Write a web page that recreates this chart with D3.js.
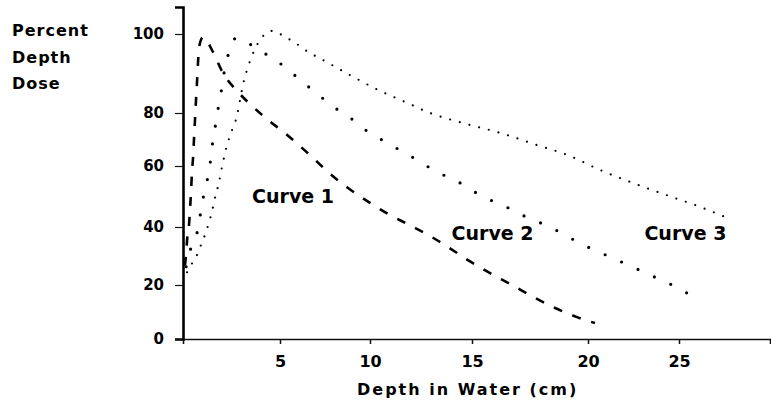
<!DOCTYPE html>
<html>
<head>
<meta charset="utf-8">
<script src="https://cdn.jsdelivr.net/npm/d3@7"></script>
<style>
    body { margin: 0; background: #fff; }
    text { font-family: "DejaVu Sans", sans-serif; font-weight: bold; fill: #000; }
</style>
</head>
<body>
<script>
// values
var xTicks = [5, 10, 15, 20, 25];
var yTicks = [0, 20, 40, 60, 80, 100];

var curve1Depth = [0.10, 0.16, 0.21, 0.31, 0.36, 0.41, 0.46, 0.52, 0.57, 0.62, 0.67, 0.72, 0.77, 0.83, 1.03, 1.55, 2.01, 2.84, 3.40, 4.33, 5.33, 6.11, 6.78, 7.67, 8.78, 10.0, 10.88, 11.91, 12.94, 13.82, 14.80, 15.78, 16.72, 17.63, 18.58, 19.53, 20.38];
var curve1Dose = [26.7, 30.7, 35.5, 40.7, 45.6, 51.1, 57.7, 63.4, 70.6, 77.7, 83.3, 87.6, 92.4, 96.7, 99.2, 95.4, 90.6, 85.3, 82.5, 77.7, 72.1, 67.5, 63.4, 58.0, 52.8, 47.9, 44.3, 40.7, 36.9, 33.1, 28.6, 24.1, 20.0, 15.6, 11.5, 8.1, 5.9];

var curve2Depth = [0.16, 0.41, 0.72, 0.88, 1.03, 1.24, 1.39, 1.49, 1.65, 1.80, 1.96, 2.06, 2.27, 2.47, 2.78, 3.35, 4.18, 4.90, 5.50, 6.22, 7.00, 7.67, 8.50, 9.06, 9.83, 10.69, 11.62, 12.40, 13.28, 14.17, 15.04, 15.69, 16.47, 17.33, 18.36, 19.31, 20.22, 21.21, 22.42, 23.57, 24.62, 25.44];
var curve2Dose = [26.3, 32.8, 37.9, 43.6, 49.2, 55.1, 60.4, 66.8, 74.3, 80.8, 85.1, 88.6, 93.4, 97.5, 99.0, 97.7, 95.2, 92.9, 90.9, 87.8, 85.3, 82.5, 80.0, 77.4, 73.2, 69.4, 65.3, 61.9, 58.0, 55.4, 51.8, 49.2, 46.6, 43.3, 40.0, 35.9, 32.4, 29.7, 26.3, 23.0, 20.0, 17.0];

var curve3Depth = [0.21, 0.52, 0.77, 0.98, 1.19, 1.34, 1.49, 1.60, 1.86, 2.01, 2.27, 2.53, 2.78, 2.94, 3.09, 3.30, 3.51, 3.71, 3.97, 4.23, 4.54, 4.90, 5.28, 5.78, 6.22, 7.67, 9.17, 10.49, 11.72, 12.94, 14.56, 16.21, 17.80, 19.10, 20.66, 22.47, 24.34, 26.15, 27.53];
var curve3Dose = [24.4, 28.1, 31.0, 34.8, 38.3, 41.6, 44.9, 48.2, 54.8, 59.7, 67.9, 73.6, 78.9, 83.3, 87.1, 90.9, 93.9, 96.2, 98.5, 100.0, 100.8, 100.3, 99.2, 98.0, 96.5, 92.7, 88.9, 85.6, 82.8, 80.0, 76.2, 72.5, 67.9, 64.2, 58.7, 54.4, 50.4, 46.6, 43.3];

var labelText = ["Curve 1", "Curve 2", "Curve 3"];
var labelDepth = [3.56, 14.0, 23.1];
var labelDose = [47.9, 35.5, 35.5];

// dimensions
var width = 771;
var height = 408;

var svg = d3.select("body")
    .append("svg")
    .attr("width", width)
    .attr("height", height);

// the printed axes are not evenly spaced, so piecewise scales
var x = d3.scaleLinear()
    .domain([0, 5, 10, 15, 20, 25, 30])
    .range([183, 280, 370, 472, 588, 679, 770]);

var y = d3.scaleLinear()
    .domain([0, 20, 40, 60, 80, 100, 107])
    .range([339, 285, 227, 166, 113, 34, 7]);

// x axis
var xAxis = svg.append("g")
    .attr("transform", "translate(0," + y(0) + ")")
    .call(d3.axisBottom(x)
        .tickValues(xTicks)
        .tickSizeOuter(0)
        .tickSize(5)
        .tickPadding(12)
        .tickFormat(d3.format("d")));
xAxis.select(".domain").attr("stroke", "#111").attr("stroke-width", 1.6);
xAxis.selectAll(".tick line").attr("stroke", "#111").attr("stroke-width", 1.5);
xAxis.selectAll("text").style("font-size", "16px").style("font-family", "DejaVu Sans").style("font-weight", "bold");

// y axis
var yAxis = svg.append("g")
    .attr("transform", "translate(" + x(0) + ",0)")
    .call(d3.axisLeft(y)
        .tickValues(yTicks)
        .tickSizeOuter(0)
        .tickSize(8)
        .tickPadding(11));
yAxis.select(".domain").attr("stroke", "#000").attr("stroke-width", 2.6);
yAxis.selectAll(".tick line").attr("stroke", "#111").attr("stroke-width", 1.2);
yAxis.selectAll("text").style("font-size", "15px").style("font-family", "DejaVu Sans").style("font-weight", "bold");

// the three depth dose curves
var line = d3.line()
    .x(function(d) { return x(d[0]); })
    .y(function(d) { return y(d[1]); })
    .curve(d3.curveMonotoneX);

var curves = [
    { depth: curve1Depth, dose: curve1Dose, dash: "9,11", w: 2.6, cap: "butt" },
    { depth: curve2Depth, dose: curve2Dose, dash: "0,18", w: 3.2, cap: "round" },
    { depth: curve3Depth, dose: curve3Dose, dash: "0,10", w: 2.2, cap: "round" }
];

svg.selectAll(".curve")
    .data(curves)
    .enter()
    .append("path")
    .attr("class", "curve")
    .attr("fill", "none")
    .attr("stroke", "#000")
    .attr("stroke-width", function(d) { return d.w; })
    .attr("stroke-linecap", function(d) { return d.cap; })
    .attr("stroke-dasharray", function(d) { return d.dash; })
    .attr("d", function(d) {
        return line(d.depth.map(function(v, i) { return [v, d.dose[i]]; }));
    });

// curve labels
svg.selectAll(".clabel")
    .data(labelText)
    .enter()
    .append("text")
    .attr("class", "clabel")
    .attr("x", function(d, i) { return x(labelDepth[i]); })
    .attr("y", function(d, i) { return y(labelDose[i]); })
    .style("font-size", "19px")
    .text(function(d) { return d; });

// axis titles
var yTitle = ["Percent", "Depth", "Dose"];
svg.selectAll(".ytitle")
    .data(yTitle)
    .enter()
    .append("text")
    .attr("class", "ytitle")
    .attr("x", 12)
    .attr("y", function(d, i) { return 36 + i * 26.5; })
    .style("font-size", "16px")
    .style("letter-spacing", "1px")
    .text(function(d) { return d; });

svg.append("text")
    .attr("x", 357)
    .attr("y", 395)
    .style("font-size", "16px")
    .style("letter-spacing", "2px")
    .text("Depth in Water (cm)");
</script>
</body>
</html>
